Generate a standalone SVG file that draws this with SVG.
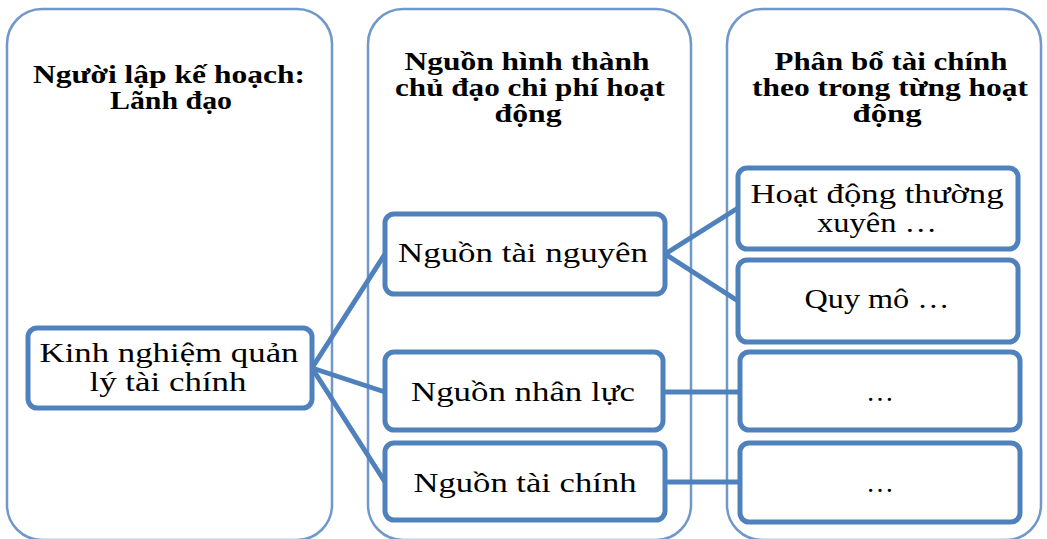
<svg xmlns="http://www.w3.org/2000/svg" width="1047" height="539" viewBox="0 0 1047 539">
<style>
.panel{fill:#fff;stroke:#7098c8;stroke-width:2.5}
.box{fill:#fff;stroke:#4f81bd;stroke-width:5}
.con{stroke:#4f81bd;stroke-width:5;fill:none;stroke-linecap:round}
.h{font-family:"Liberation Serif","Times New Roman",serif;font-weight:bold;font-size:25px;fill:#000;text-anchor:middle}
.t{font-family:"Liberation Serif","Times New Roman",serif;font-size:28px;fill:#000;text-anchor:middle}
</style>
<rect width="1047" height="539" fill="#fff"/>
<g id="panel-planner">
<rect class="panel" x="7" y="9" width="325" height="531" rx="35"/>
<text class="h" x="169" y="83" textLength="272" lengthAdjust="spacingAndGlyphs">Người lập kế hoạch:</text>
<text class="h" x="171" y="109" textLength="122" lengthAdjust="spacingAndGlyphs">Lãnh đạo</text>
</g>
<g id="panel-sources">
<rect class="panel" x="368" y="9" width="323" height="531" rx="35"/>
<text class="h" x="527" y="70" textLength="245" lengthAdjust="spacingAndGlyphs">Nguồn hình thành</text>
<text class="h" x="530" y="96" textLength="270" lengthAdjust="spacingAndGlyphs">chủ đạo chi phí hoạt</text>
<text class="h" x="528" y="122" textLength="67" lengthAdjust="spacingAndGlyphs">động</text>
</g>
<g id="panel-allocation">
<rect class="panel" x="727" y="9" width="314" height="531" rx="35"/>
<text class="h" x="891" y="70" textLength="233" lengthAdjust="spacingAndGlyphs">Phân bổ tài chính</text>
<text class="h" x="890" y="96" textLength="276" lengthAdjust="spacingAndGlyphs">theo trong từng hoạt</text>
<text class="h" x="887" y="122" textLength="69" lengthAdjust="spacingAndGlyphs">động</text>
</g>
<g id="connectors">
<line class="con" x1="312" y1="368" x2="385" y2="254"/>
<line class="con" x1="312" y1="368" x2="385" y2="392"/>
<line class="con" x1="312" y1="368" x2="385" y2="482"/>
<line class="con" x1="665" y1="254" x2="738" y2="208"/>
<line class="con" x1="665" y1="254" x2="738" y2="301"/>
<line class="con" x1="663" y1="392" x2="740" y2="392"/>
<line class="con" x1="665" y1="482" x2="740" y2="482"/>
</g>
<g id="node-kinh-nghiem">
<rect class="box" x="28" y="328" width="284" height="80" rx="9"/>
<text class="t" x="169" y="362" textLength="259" lengthAdjust="spacingAndGlyphs">Kinh nghiệm quản</text>
<text class="t" x="168" y="391" textLength="157" lengthAdjust="spacingAndGlyphs">lý tài chính</text>
</g>
<g id="node-tai-nguyen">
<rect class="box" x="385" y="214" width="280" height="80" rx="9"/>
<text class="t" x="523" y="262" textLength="250" lengthAdjust="spacingAndGlyphs">Nguồn tài nguyên</text>
</g>
<g id="node-nhan-luc">
<rect class="box" x="385" y="352" width="278" height="78" rx="9"/>
<text class="t" x="523" y="401" textLength="224" lengthAdjust="spacingAndGlyphs">Nguồn nhân lực</text>
</g>
<g id="node-tai-chinh">
<rect class="box" x="385" y="443" width="280" height="77" rx="9"/>
<text class="t" x="525" y="492" textLength="223" lengthAdjust="spacingAndGlyphs">Nguồn tài chính</text>
</g>
<g id="node-thuong-xuyen">
<rect class="box" x="738" y="168" width="280" height="81" rx="9"/>
<text class="t" x="877" y="203" textLength="253" lengthAdjust="spacingAndGlyphs">Hoạt động thường</text>
<text class="t" x="877" y="232" textLength="120" lengthAdjust="spacingAndGlyphs">xuyên …</text>
</g>
<g id="node-quy-mo">
<rect class="box" x="738" y="260" width="280" height="82" rx="9"/>
<text class="t" x="877" y="308" textLength="145" lengthAdjust="spacingAndGlyphs">Quy mô …</text>
</g>
<g id="node-etc-1">
<rect class="box" x="740" y="352" width="280" height="78" rx="9"/>
<text class="t" x="880" y="401">…</text>
</g>
<g id="node-etc-2">
<rect class="box" x="740" y="443" width="280" height="79" rx="9"/>
<text class="t" x="880" y="492">…</text>
</g>
</svg>
